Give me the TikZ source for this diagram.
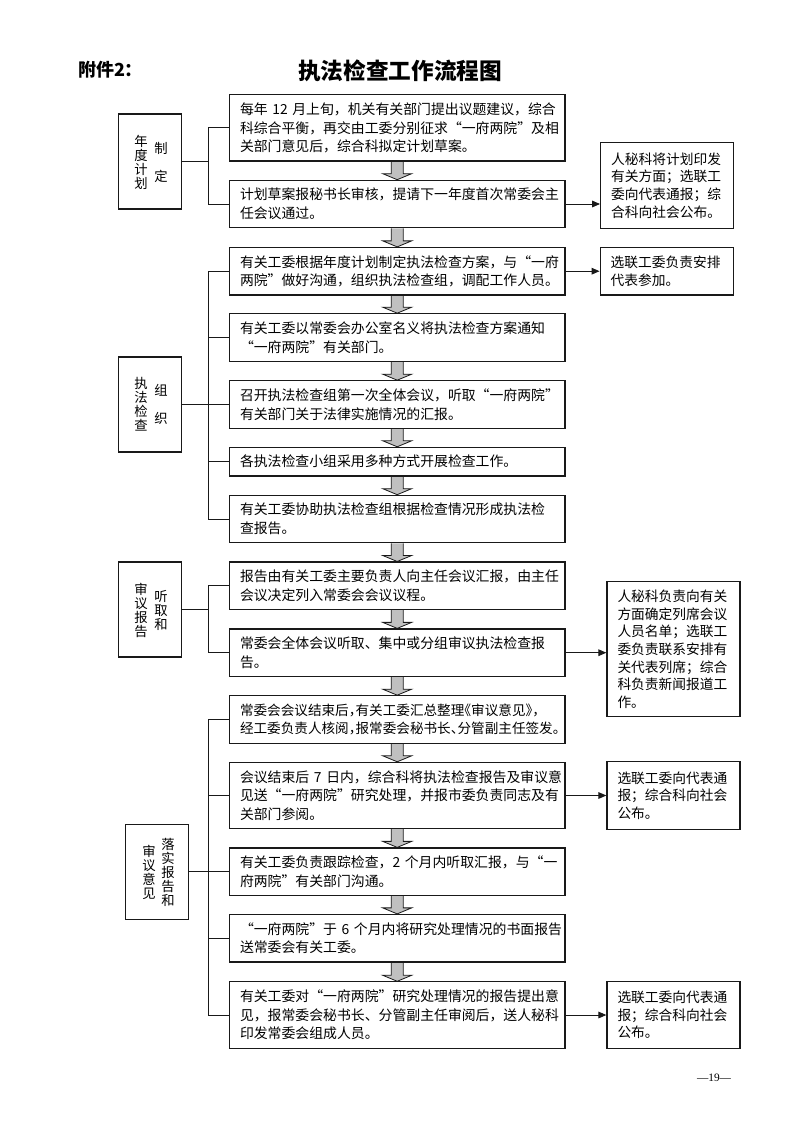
\documentclass[tikz,border=0pt]{standalone}
\usepackage{fontspec}
\setmainfont{Liberation Serif}
\newfontfamily\cjk{Noto Sans CJK SC}
\newfontfamily\cjkhalt{Noto Sans CJK SC}[RawFeature=+halt]
\usetikzlibrary{arrows.meta, positioning, calc, backgrounds}
\definecolor{inkblack}{RGB}{25,25,25}
\definecolor{arrowgray}{RGB}{192,192,192}
\tikzset{
    task/.style={rectangle, draw=inkblack, line width=0.9pt, text width=235.8pt, inner xsep=8pt, inner ysep=2pt, minimum height=35.6pt, align=left, font=\cjk\fontsize{10.4pt}{14pt}\selectfont},
    note/.style={rectangle, draw=inkblack, line width=0.9pt, text width=84pt, inner xsep=7.9pt, inner ysep=2pt, align=left, font=\cjk\fontsize{10.3pt}{13.2pt}\selectfont},
    phase/.style={rectangle, draw=inkblack, line width=0.9pt, minimum width=47.3pt, minimum height=71.3pt},
    vtext/.style={align=center, inner sep=0pt, font=\cjk\fontsize{10pt}{10.5pt}\selectfont},
    branch/.style={line width=0.75pt, inkblack},
    sidearrow/.style={-{Triangle[length=6pt, width=5pt]}, line width=0.75pt, inkblack},
    flowarrow/.style={draw=inkblack, fill=arrowgray, line width=0.6pt},
}
\newcommand{\flowarrow}[2]{%
  \begin{scope}[on background layer]
    \draw[flowarrow] ($(#1.south)+(-6,0)$) -- ($(#2.north)+(-6,-6)$) -- ($(#2.north)+(-14.5,-6)$) -- (#2.north)
      -- ($(#2.north)+(14.5,-6)$) -- ($(#2.north)+(6,-6)$) -- ($(#1.south)+(6,0)$);
  \end{scope}}

\begin{document}
\begin{tikzpicture}[x=0.75pt, y=-0.75pt]
    \useasboundingbox (0,0) rectangle (793,1122);
    \node[anchor=west, font=\cjk\bfseries\fontsize{13.5pt}{16pt}\selectfont] (annex) at (73.3,70) {附件2：};
    \node[font=\cjk\bfseries\fontsize{17pt}{20pt}\selectfont] (title) at (400,71) {执法检查工作流程图};
    \coordinate (spine) at (208.7,0);

    \node[task, minimum height=49.7pt] (a1) at (397.2,127.9) {每年~12~月上旬，机关有关部门提出议题建议，综合\\科综合平衡，再交由工委分别征求“一府两院”及相\\关部门意见后，综合科拟定计划草案。};
    \node[task] (a2) at (397.2,204) {计划草案报秘书长审核，提请下一年度首次常委会主\\任会议通过。};
    \node[note, minimum height=64.2pt] (sa) at (667.2,185.5) {人秘科将计划印发\\有关方面；选联工\\委向代表通报；综\\合科向社会公布。};
    \node[phase] (la) at (150,161.5) {};
    \node[vtext] (la-l) at ($(la)+(-9,1)$) {年\\度\\计\\划};
    \node[vtext] (la-r) at ($(la)+(11,1)$) {制\\[11pt]定};

    \node[task] (b1) at (397.2,271.2) {有关工委根据年度计划制定执法检查方案，与“一府\\两院”做好沟通，组织执法检查组，调配工作人员。};
    \node[task] (b2) at (397.2,337.5) {有关工委以常委会办公室名义将执法检查方案通知\\“一府两院”有关部门。};
    \node[task] (b3) at (397.2,404.5) {召开执法检查组第一次全体会议，听取“一府两院”\\有关部门关于法律实施情况的汇报。};
    \node[task, minimum height=21.5pt] (b4) at (397.2,461.7) {各执法检查小组采用多种方式开展检查工作。};
    \node[task] (b5) at (397.2,519) {有关工委协助执法检查组根据检查情况形成执法检\\查报告。};
    \node[note, minimum height=35.8pt] (sb) at (666.7,271.2) {选联工委负责安排\\代表参加。};
    \node[phase] (lb) at (150,404.5) {};
    \node[vtext] (lb-l) at ($(lb)+(-9,0)$) {执\\法\\检\\查};
    \node[vtext] (lb-r) at ($(lb)+(11,0)$) {组\\[10pt]织};

    \node[task] (c1) at (397.2,585.8) {报告由有关工委主要负责人向主任会议汇报，由主任\\会议决定列入常委会会议议程。};
    \node[task] (c2) at (397.2,652.7) {常委会全体会议听取、集中或分组审议执法检查报\\告。};
    \node[note, minimum height=101.3pt] (sc) at (673.5,649.2) {人秘科负责向有关\\方面确定列席会议\\人员名单；选联工\\委负责联系安排有\\关代表列席；综合\\科负责新闻报道工\\作。};
    \node[phase] (lc) at (150,609.5) {};
    \node[vtext] (lc-l) at ($(lc)+(-9,1)$) {审\\议\\报\\告};
    \node[vtext] (lc-r) at ($(lc)+(11,1)$) {听\\取\\和};

    \node[task, font=\cjkhalt\fontsize{10.2pt}{14pt}\selectfont] (d1) at (397.2,719.5) {常委会会议结束后，有关工委汇总整理《审议意见》，\\经工委负责人核阅，报常委会秘书长、分管副主任签发。};
    \node[task, minimum height=49.7pt] (d2) at (397.2,795.5) {会议结束后~7~日内，综合科将执法检查报告及审议意\\见送“一府两院”研究处理，并报市委负责同志及有\\关部门参阅。};
    \node[task] (d3) at (397.2,871.7) {有关工委负责跟踪检查，2~个月内听取汇报，与“一\\府两院”有关部门沟通。};
    \node[task] (d4) at (397.2,938.2) {“一府两院”于~6~个月内将研究处理情况的书面报告\\送常委会有关工委。};
    \node[task, minimum height=49.7pt] (d5) at (397.2,1015) {有关工委对“一府两院”研究处理情况的报告提出意\\见，报常委会秘书长、分管副主任审阅后，送人秘科\\印发常委会组成人员。};
    \node[note, minimum height=50.7pt] (sd2) at (673.5,795.5) {选联工委向代表通\\报；综合科向社会\\公布。};
    \node[note, minimum height=50pt] (sd5) at (673.5,1015) {选联工委向代表通\\报；综合科向社会\\公布。};
    \node[phase] (ld) at (157,871.8) {};
    \node[vtext] (ld-l) at ($(ld)+(-8,1)$) {审\\议\\意\\见};
    \node[vtext] (ld-r) at ($(ld)+(11,1)$) {落\\实\\报\\告\\和};

    \node[font=\fontsize{8.5pt}{10pt}\selectfont] (pagenum) at (714,1078) {—19—};

    \flowarrow{a1}{a2}
    \flowarrow{a2}{b1}
    \flowarrow{b1}{b2}
    \flowarrow{b2}{b3}
    \flowarrow{b3}{b4}
    \flowarrow{b4}{b5}
    \flowarrow{b5}{c1}
    \flowarrow{c1}{c2}
    \flowarrow{c2}{d1}
    \flowarrow{d1}{d2}
    \flowarrow{d2}{d3}
    \flowarrow{d3}{d4}
    \flowarrow{d4}{d5}

    \draw[branch] (a1.west) -| (spine |- a2.west) -- (a2.west);
    \draw[branch] (la.east) -- (la.east -| spine);
    \draw[branch] (b1.west) -| (spine |- b5.west) -- (b5.west);
    \draw[branch] (b2.west) -- (b2.west -| spine);
    \draw[branch] (b3.west) -- (b3.west -| spine);
    \draw[branch] (b4.west) -- (b4.west -| spine);
    \draw[branch] (lb.east) -- (lb.east -| spine);
    \draw[branch] (c1.west) -| (spine |- c2.west) -- (c2.west);
    \draw[branch] (lc.east) -- (lc.east -| spine);
    \draw[branch] (d1.west) -| (spine |- d5.west) -- (d5.west);
    \draw[branch] (d2.west) -- (d2.west -| spine);
    \draw[branch] (d3.west) -- (d3.west -| spine);
    \draw[branch] (d4.west) -- (d4.west -| spine);
    \draw[branch] (ld.east) -- (ld.east -| spine);

    \draw[sidearrow] (a2.east) -- (a2.east -| sa.west);
    \draw[sidearrow] (b1.east) -- (b1.east -| sb.west);
    \draw[sidearrow] (c2.east) -- (c2.east -| sc.west);
    \draw[sidearrow] (d2.east) -- (d2.east -| sd2.west);
    \draw[sidearrow] (d5.east) -- (d5.east -| sd5.west);
\end{tikzpicture}
\end{document}
